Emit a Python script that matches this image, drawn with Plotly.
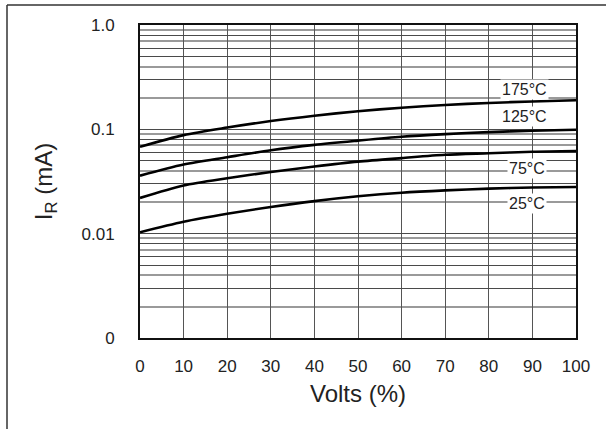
import math
import plotly.graph_objects as go

volts = [0, 10, 20, 30, 40, 50, 60, 70, 80, 90, 100]
i_175 = [0.068, 0.088, 0.104, 0.12, 0.135, 0.149, 0.161, 0.171, 0.179, 0.185, 0.19]
i_125 = [0.036, 0.046, 0.054, 0.063, 0.071, 0.078, 0.085, 0.09, 0.094, 0.097, 0.099]
i_75 = [0.022, 0.029, 0.034, 0.039, 0.044, 0.049, 0.053, 0.057, 0.059, 0.061, 0.062]
i_25 = [0.0103, 0.013, 0.0155, 0.018, 0.0205, 0.0228, 0.0247, 0.026, 0.027, 0.0277, 0.028]

series = [("175°C", i_175), ("125°C", i_125), ("75°C", i_75), ("25°C", i_25)]
label_x = [88.1, 88.1, 88.8, 88.8]
label_y = [0.243, 0.132, 0.0426, 0.0196]

y_major_vals = [0.001, 0.01, 0.1, 1.0]
y_major_text = ["0", "0.01", "0.1", "1.0"]
x_ticks = [0, 10, 20, 30, 40, 50, 60, 70, 80, 90, 100]

dark_mult = [3, 5, 6, 8]
gray_mult = [2, 4, 7, 9]
decades = [0.001, 0.01, 0.1]

dark_vals = list(y_major_vals) + [m * d for d in decades for m in dark_mult]
dark_text = list(y_major_text) + ["" for d in decades for m in dark_mult]
gray_vals = [m * d for d in decades for m in gray_mult]

FONT = "Liberation Sans, Arial, sans-serif"
TXT = "#222222"

fig = go.Figure()
for name, vals in series:
    fig.add_trace(go.Scatter(
        x=volts, y=vals, mode="lines", name=name,
        line=dict(color="#000000", width=2.6, shape="spline", smoothing=0.8),
        showlegend=False, hoverinfo="skip",
    ))

for (name, _), lx, ly in zip(series, label_x, label_y):
    fig.add_annotation(
        x=lx, y=math.log10(ly), xref="x", yref="y", text=name, showarrow=False,
        bgcolor="#ffffff", borderpad=1,
        font=dict(family=FONT, size=16, color=TXT),
    )

fig.update_xaxes(
    range=[0, 100], tickvals=x_ticks, ticktext=[str(v) for v in x_ticks],
    showgrid=True, gridcolor="#555555", gridwidth=1,
    showline=True, mirror=True, linecolor="#111111", linewidth=2,
    ticks="", ticklabelstandoff=12, zeroline=False,
    tickfont=dict(family=FONT, size=17, color=TXT),
    title=dict(text="Volts (%)", font=dict(family=FONT, size=24, color=TXT), standoff=10),
)
fig.update_yaxes(
    type="log", range=[-3, 0],
    tickmode="array", tickvals=dark_vals, ticktext=dark_text,
    showgrid=True, gridcolor="#4a4a4a", gridwidth=1,
    minor=dict(tickmode="array", tickvals=gray_vals, showgrid=True,
               gridcolor="#9a9a9a", gridwidth=1.5, ticks=""),
    showline=True, mirror=True, linecolor="#111111", linewidth=2,
    ticks="", ticklabelstandoff=20, zeroline=False,
    tickfont=dict(family=FONT, size=17, color=TXT),
    title=dict(text="I<sub>R</sub> (mA)", font=dict(family=FONT, size=24, color=TXT), standoff=22),
)

# outer frame lines (top and left) around the picture
fig.add_shape(type="line", xref="paper", yref="paper",
              x0=(7 - 140) / 436, x1=(606 - 140) / 436,
              y0=1 + (25 - 5) / 313, y1=1 + (25 - 5) / 313,
              line=dict(color="#333333", width=1.5), layer="below")
fig.add_shape(type="line", xref="paper", yref="paper",
              x0=(7 - 140) / 436, x1=(7 - 140) / 436,
              y0=1 + (25 - 5) / 313, y1=-(429 - 338) / 313,
              line=dict(color="#333333", width=1.5), layer="below")

fig.update_layout(
    width=608, height=429,
    margin=dict(l=140, r=32, t=25, b=91),
    paper_bgcolor="#ffffff", plot_bgcolor="#ffffff",
    font=dict(family=FONT, color=TXT),
)

fig.write_html("out.html", config={"displayModeBar": False},
               post_script="document.body.style.margin='0px';")
